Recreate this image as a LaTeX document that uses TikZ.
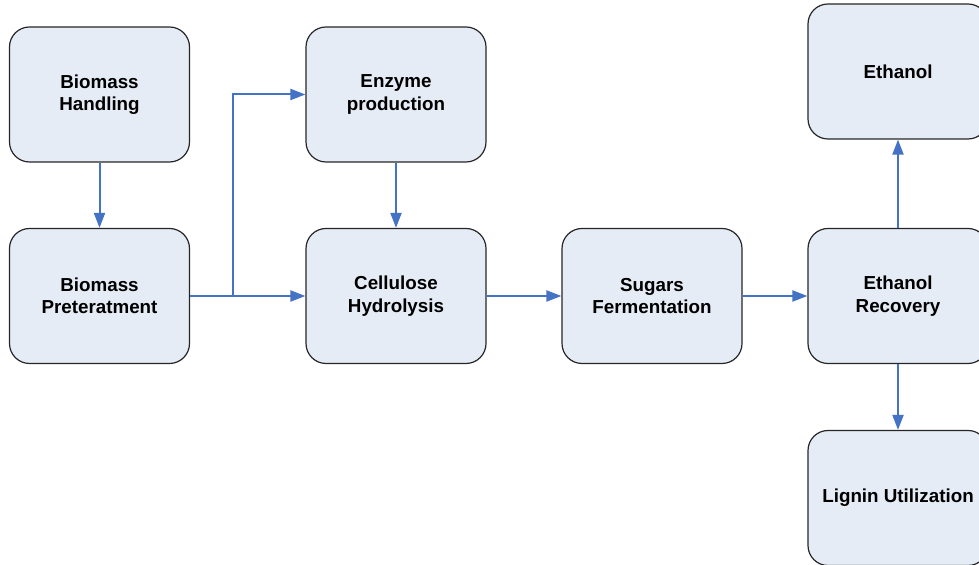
\documentclass[tikz,border=0pt]{standalone}
\usepackage{fontspec}
\setmainfont{Liberation Sans}
\usetikzlibrary{arrows.meta}
\definecolor{boxfill}{RGB}{230,236,246}
\definecolor{flowblue}{RGB}{68,114,196}
\begin{document}
\begin{tikzpicture}[
    x=0.5pt, y=-0.5pt,
    stage/.style={draw=black!85, line width=0.6pt, fill=boxfill, rounded corners=10pt,
        minimum width=90pt, minimum height=67.5pt, align=center,
        font=\fontsize{9.4}{11.2}\selectfont\bfseries},
    flow/.style={draw=flowblue, line width=1pt, -{Triangle[length=7.5pt,width=5.5pt]}}
]
    \useasboundingbox (0,0) rectangle (979,565);

    % Left column
    \node[stage] (handling) at (99.5,94.5) {Biomass\\Handling};
    \node[stage] (pretreat) at (99.5,296) {Biomass\\Preteratment};

    % Middle
    \node[stage] (enzyme) at (396,94.5) {Enzyme\\production};
    \node[stage] (hydrolysis) at (396,296) {Cellulose\\Hydrolysis};
    \node[stage] (ferment) at (652,296) {Sugars\\Fermentation};

    % Right column
    \node[stage] (ethanol) at (898,71.5) {Ethanol};
    \node[stage] (recovery) at (898,296) {Ethanol\\Recovery};
    \node[stage] (lignin) at (898,498) {Lignin Utilization};

    % Branch point
    \coordinate (split) at (233,296);

    % Connections
    \draw[flow] (handling) -- (pretreat);
    \draw[flow] (pretreat.east) -- (hydrolysis.west);
    \draw[flow] (split) |- (enzyme.west);
    \draw[flow] (enzyme) -- (hydrolysis);
    \draw[flow] (hydrolysis) -- (ferment);
    \draw[flow] (ferment) -- (recovery);
    \draw[flow] (recovery) -- (ethanol);
    \draw[flow] (recovery) -- (lignin);

\end{tikzpicture}
\end{document}
